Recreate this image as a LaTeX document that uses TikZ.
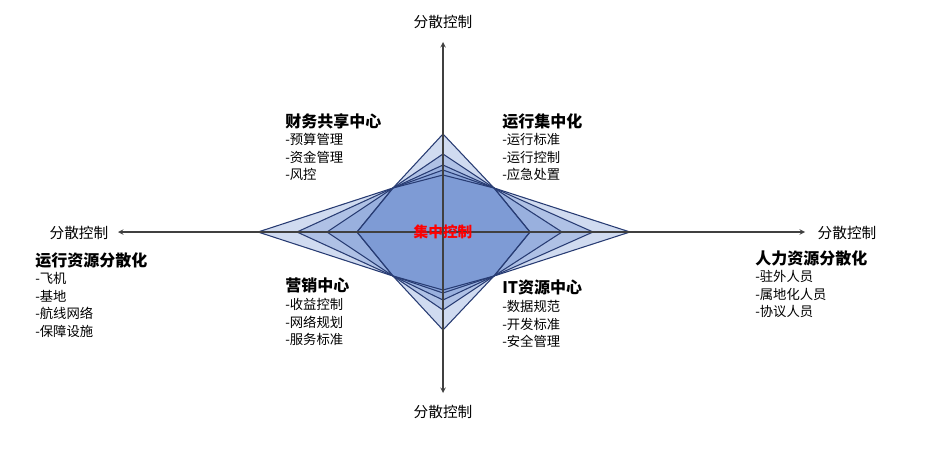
\documentclass[tikz,border=0pt]{standalone}
\usepackage{fontspec}
\setmainfont{Noto Sans CJK SC}
\begin{document}
\begin{tikzpicture}[x=0.75pt,y=-0.75pt,
  ax/.style={draw=black!75,line width=0.8pt,-stealth},
  lay/.style={draw={rgb,255:red,40;green,60;blue,115},line width=0.8pt,fill={rgb,255:red,100;green,135;blue,205},fill opacity=0.3,line join=miter},
  blk/.style={anchor=north west,align=left,inner sep=0pt,font=\fontsize{10pt}{13.2pt}\selectfont},
  hd/.style={},
  lbl/.style={inner sep=0pt,font=\fontsize{11pt}{12pt}\selectfont}]
\useasboundingbox (0,0) rectangle (936,453);
\coordinate (c) at (443,232);
\coordinate (a) at (393,188); \coordinate (b) at (494,188);
\coordinate (d) at (494,276); \coordinate (e) at (393,276);
\foreach \t/\r/\bt/\l in {134/630/330/258,154/593/310/297,165/562/300/327,170/530/293/357,175/530/290/357}{
  \path[lay] (443,\t) -- (b) -- (\r,232) -- (d) -- (443,\bt) -- (e) -- (\l,232) -- (a) -- cycle;
}
\coordinate (vt) at (443,42); \coordinate (vb) at (443,393);
\coordinate (hl) at (118,232); \coordinate (hr) at (805,232);
\draw[ax] (c) -- (vt); \draw[ax] (c) -- (vb);
\draw[ax] (c) -- (hl); \draw[ax] (c) -- (hr);
\node[lbl] (t1) at (443,22) {分散控制};
\node[lbl] (t2) at (443,412) {分散控制};
\node[lbl] (t3) at (79,233) {分散控制};
\node[lbl] (t4) at (847,233) {分散控制};
\node[font=\fontsize{11pt}{12pt}\selectfont\bfseries,text=red,inner sep=0pt] (cc) at (443,232) {集中控制};
\node[blk] (q1) at (285,113) {{\fontsize{12pt}{13pt}\selectfont\bfseries 财务共享中心}\\-预算管理\\-资金管理\\-风控};
\node[blk] (q2) at (502,113) {{\fontsize{12pt}{13pt}\selectfont\bfseries 运行集中化}\\-运行标准\\-运行控制\\-应急处置};
\node[blk] (q3) at (285,278) {{\fontsize{12pt}{13pt}\selectfont\bfseries 营销中心}\\-收益控制\\-网络规划\\-服务标准};
\node[blk] (q4) at (502,280) {{\fontsize{12pt}{13pt}\selectfont\bfseries IT资源中心}\\-数据规范\\-开发标准\\-安全管理};
\node[blk] (q5) at (35,252) {{\fontsize{12pt}{13pt}\selectfont\bfseries 运行资源分散化}\\-飞机\\-基地\\-航线网络\\-保障设施};
\node[blk] (q6) at (755,250) {{\fontsize{12pt}{13pt}\selectfont\bfseries 人力资源分散化}\\-驻外人员\\-属地化人员\\-协议人员};
\end{tikzpicture}
\end{document}
